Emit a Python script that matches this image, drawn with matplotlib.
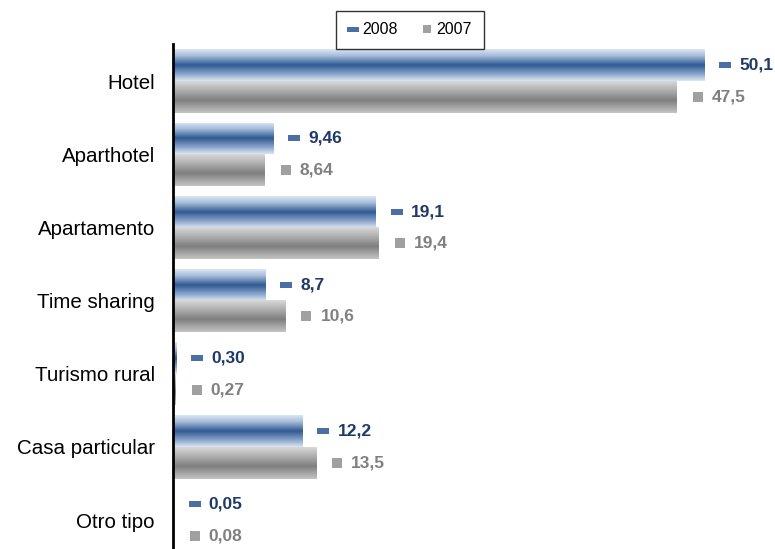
import numpy as np
import matplotlib.pyplot as plt
from matplotlib.lines import Line2D
from matplotlib.colors import to_rgb
import matplotlib.transforms as mtransforms

plt.rcParams['font.family'] = ['Liberation Sans', 'DejaVu Sans']

# data
categorias = ["Hotel", "Aparthotel", "Apartamento", "Time sharing",
              "Turismo rural", "Casa particular", "Otro tipo"]
v2008 = [50.1, 9.46, 19.1, 8.7, 0.30, 12.2, 0.05]
v2007 = [47.5, 8.64, 19.4, 10.6, 0.27, 13.5, 0.08]
lab2008 = ["50,1", "9,46", "19,1", "8,7", "0,30", "12,2", "0,05"]
lab2007 = ["47,5", "8,64", "19,4", "10,6", "0,27", "13,5", "0,08"]


def gradient(stops, n=256):
    # stops: list of (pos, color) top -> bottom
    pos = [s[0] for s in stops]
    cols = np.array([to_rgb(s[1]) for s in stops])
    t = np.linspace(0, 1, n)
    g = np.stack([np.interp(t, pos, cols[:, k]) for k in range(3)], axis=1)
    return g[:, None, :]


blue_grad = gradient([(0, "#dce6f2"), (0.2, "#a9bfdc"), (0.5, "#2f5a92"),
                      (0.75, "#7f9cc6"), (1, "#dce6f2")])
grey_grad = gradient([(0, "#d9d9d9"), (0.25, "#b5b5b5"), (0.6, "#7f7f7f"),
                      (1, "#c4c4c4")])

fig = plt.figure(figsize=(7.75, 5.49), dpi=100)
ax = fig.add_axes([173 / 775, -0.0142, 594 / 775, 0.9333])

y = np.arange(len(categorias))
off = 0.215
h = 0.435

series = [
    (v2008, lab2008, -off, blue_grad, "#1f3a68", "#4a6fa5", "blue"),
    (v2007, lab2007, off, grey_grad, "#808080", "#a0a0a0", "grey"),
]

mk_dash = [(-1, -0.45), (1, -0.45), (1, 0.45), (-1, 0.45), (-1, -0.45)]
mk_tr = mtransforms.offset_copy(ax.transData, fig=fig, x=21, y=0, units='dots')

for vals, labs, dy, grad, tcol, mcol, kind in series:
    bars = ax.barh(y + dy, vals, height=h, color='none', edgecolor='none')
    for b, v, lab, yy in zip(bars, vals, labs, y + dy):
        im = ax.imshow(grad, extent=[0, v, yy + h / 2, yy - h / 2],
                       origin='upper', aspect='auto', interpolation='antialiased',
                       interpolation_stage='rgba', zorder=2)
        im.set_clip_path(b)
        if kind == "blue":
            ax.plot(v, yy, marker=mk_dash, markersize=9, color=mcol,
                    markeredgewidth=0, transform=mk_tr, clip_on=False)
        else:
            ax.plot(v, yy, marker='s', markersize=6.5, color=mcol,
                    markeredgewidth=0, transform=mk_tr, clip_on=False)
        ax.annotate(lab, xy=(v, yy), xytext=(35 * 0.72, 0),
                    textcoords='offset points', ha='left', va='center',
                    fontsize=12.5, fontweight='bold', color=tcol)

ax.set_xlim(0, 56)
ax.set_ylim(len(categorias) - 0.5, -0.5)
ax.set_yticks(y)
ax.set_yticklabels(categorias, fontsize=14.8)
ax.tick_params(axis='y', length=0, pad=13)
ax.set_xticks([])
for s in ['top', 'right', 'bottom']:
    ax.spines[s].set_visible(False)
ax.spines['left'].set_linewidth(2)

handles = [
    Line2D([], [], linestyle='none', marker=mk_dash, markersize=8,
           color="#4a6fa5", markeredgewidth=0, label="2008"),
    Line2D([], [], linestyle='none', marker='s', markersize=6,
           color="#a0a0a0", markeredgewidth=0, label="2007"),
]
leg = fig.legend(handles=handles, loc='center', bbox_to_anchor=(410 / 775, 1 - 30 / 549),
                 ncol=2, fontsize=11.5, frameon=True, fancybox=False,
                 handlelength=0.6, handletextpad=0.3, columnspacing=1.5,
                 borderpad=0.75, borderaxespad=0)
leg.get_frame().set_edgecolor('black')
leg.get_frame().set_linewidth(1)

fig.savefig("out.png", dpi=100)
